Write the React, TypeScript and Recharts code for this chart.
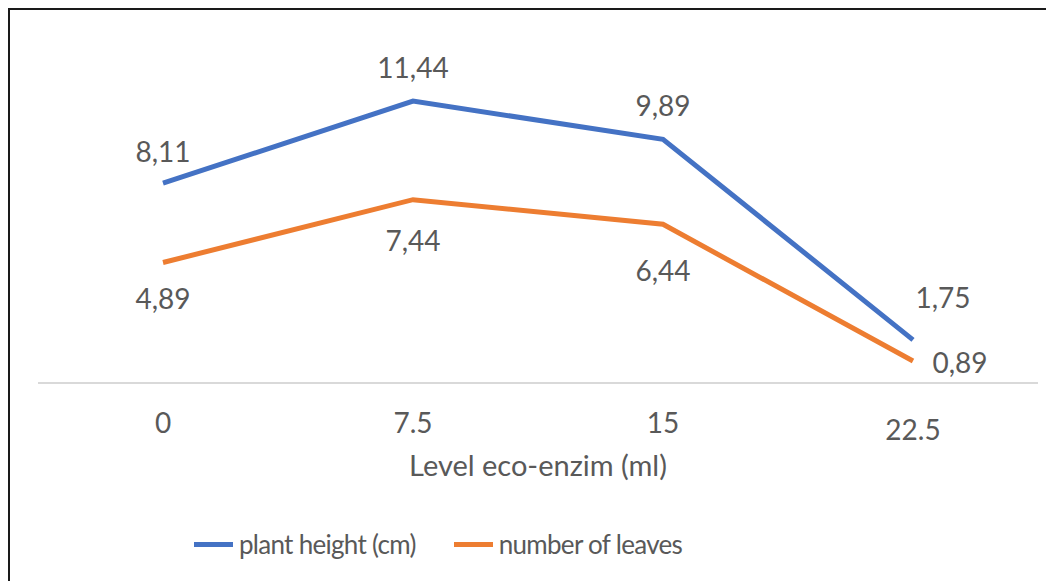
import React from "react";
import { LineChart, Line, XAxis, YAxis, Legend, LabelList, Label } from "recharts";

const levels = ["0", "7.5", "15", "22.5"];
const plantHeight = [8.11, 11.44, 9.89, 1.75];
const leafCount = [4.89, 7.44, 6.44, 0.89];

const data = levels.map((level, i) => ({
  level,
  height: plantHeight[i],
  leaves: leafCount[i],
}));

const BLUE = "#4472C4";
const ORANGE = "#ED7D31";
const TEXT = "#595959";
const FONT = "Lato, 'Open Sans', sans-serif";

// label offsets from the point (Excel put the last ones on the right)
const heightLabelPos = [
  [0, -32],
  [0, -34],
  [0, -34],
  [30, -43],
];
const leavesLabelPos = [
  [0, 36],
  [0, 40],
  [0, 46],
  [47, 1],
];

const fmt = (v: number) => v.toFixed(2).replace(".", ",");

const makeLabel = (pos: number[][]) => (props: any) => {
  const { x, y, value, index } = props;
  const [dx, dy] = pos[index] || [0, 0];
  return (
    <text
      x={x + dx}
      y={y + dy}
      textAnchor="middle"
      dominantBaseline="central"
      fill={TEXT}
      fontSize={28}
      fontFamily={FONT}
    >
      {fmt(value)}
    </text>
  );
};

const Tick = (props: any) => {
  const { x, y, payload, index } = props;
  return (
    <text
      x={x}
      y={y + (index === 3 ? 38 : 31)}
      textAnchor="middle"
      dominantBaseline="central"
      fill={TEXT}
      fontSize={28}
      fontFamily={FONT}
    >
      {payload.value}
    </text>
  );
};

const LegendContent = () => {
  const items = [
    { name: "plant height (cm)", color: BLUE },
    { name: "number of leaves", color: ORANGE },
  ];
  return (
    <div
      style={{
        display: "flex",
        justifyContent: "center",
        paddingTop: 17,
        paddingRight: 200,
        fontFamily: FONT,
        fontSize: 26,
        letterSpacing: -0.7,
        color: TEXT,
      }}
    >
      {items.map((it) => (
        <div key={it.name} style={{ display: "flex", alignItems: "center", margin: "0 19px" }}>
          <span style={{ display: "inline-block", width: 39, height: 5, background: it.color, marginRight: 6 }} />
          <span>{it.name}</span>
        </div>
      ))}
    </div>
  );
};

export default function App() {
  return (
    <div
      style={{
        width: 1046,
        height: 573,
        borderTop: "2px solid #1a1a1a",
        borderLeft: "2px solid #1a1a1a",
        background: "#fff",
        boxSizing: "border-box",
      }}
    >
      <LineChart
        width={1044}
        height={571}
        data={data}
        margin={{ top: 28, right: 16, left: 28, bottom: 10 }}
      >
        <XAxis
          dataKey="level"
          axisLine={{ stroke: "#d9d9d9", strokeWidth: 2 }}
          tickLine={false}
          tick={<Tick />}
          height={128}
          interval={0}
          padding={{ left: 125, right: 125 }}
        >
          <Label
            value="Level eco-enzim (ml)"
            position="insideTop"
            offset={72}
            fill={TEXT}
            fontSize={29}
            fontFamily={FONT}
          />
        </XAxis>
        <YAxis hide domain={[0, 14]} />
        <Legend verticalAlign="bottom" height={60} content={<LegendContent />} />
        <Line
          dataKey="height"
          name="plant height (cm)"
          stroke={BLUE}
          strokeWidth={5}
          dot={false}
          isAnimationActive={false}
        >
          <LabelList dataKey="height" content={makeLabel(heightLabelPos)} />
        </Line>
        <Line
          dataKey="leaves"
          name="number of leaves"
          stroke={ORANGE}
          strokeWidth={5}
          dot={false}
          isAnimationActive={false}
        >
          <LabelList dataKey="leaves" content={makeLabel(leavesLabelPos)} />
        </Line>
      </LineChart>
    </div>
  );
}
